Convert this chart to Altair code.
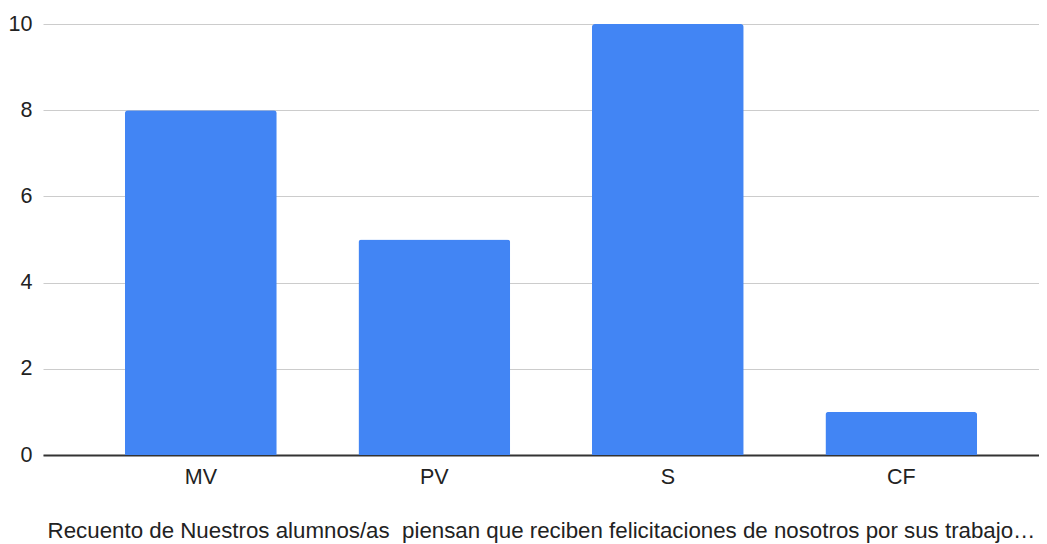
import altair as alt
import pandas as pd

categories = ["MV", "PV", "S", "CF"]
counts = [8, 5, 10, 1]
y_ticks = [0, 2, 4, 6, 8, 10]
x_title = "Recuento de Nuestros alumnos/as\u00a0 piensan que reciben felicitaciones de nosotros por sus trabajo…"

df = pd.DataFrame({"cat": categories, "n": counts})

FONT = "Arial, Liberation Sans, sans-serif"

chart = alt.Chart(df).mark_bar(
    color="#4285F4", cornerRadiusTopLeft=3, cornerRadiusTopRight=3
).encode(
    x=alt.X(
        "cat:N", sort=categories, title=x_title,
        scale=alt.Scale(paddingInner=0.35, paddingOuter=0.308, align=0.57),
        axis=alt.Axis(labelAngle=0, ticks=False, domainColor="#333333", domainWidth=2,
                      labelPadding=11, titlePadding=32, labelFontSize=21.5, titleFontSize=22.3,
                      labelFont=FONT, titleFont=FONT, labelColor="#222222", titleColor="#222222",
                      titleFontWeight="normal"),
    ),
    y=alt.Y(
        "n:Q", title=None,
        scale=alt.Scale(domain=[0, 10], nice=False),
        axis=alt.Axis(values=y_ticks, ticks=False, domain=False, gridColor="#cccccc",
                      labelPadding=11, labelFontSize=21.5, labelFont=FONT, labelColor="#222222"),
    ),
).properties(
    width=996, height=431,
    autosize=alt.AutoSizeParams(type="none"),
    padding={"left": 35, "top": 16, "right": 0, "bottom": 88},
).configure_view(stroke=None)

chart.save("out.html", embed_options={"renderer": "svg", "actions": False})
